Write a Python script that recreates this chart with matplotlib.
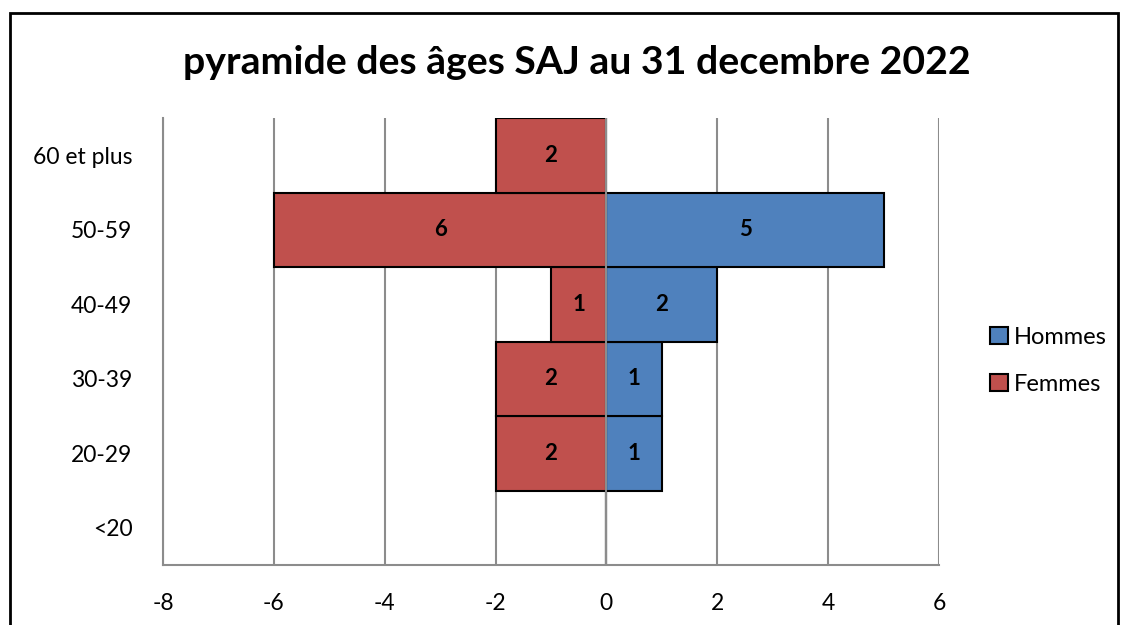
import matplotlib
matplotlib.use("Agg")
import matplotlib.pyplot as plt
import numpy as np
from matplotlib.patches import Rectangle

categories = ["<20", "20-29", "30-39", "40-49", "50-59", "60 et plus"]
hommes = [0, 1, 1, 2, 5, 0]
femmes = [0, 2, 2, 1, 6, 2]
xticks = [-8, -6, -4, -2, 0, 2, 4, 6]
title = "pyramide des âges SAJ au 31 decembre 2022"

plt.rcParams['font.family'] = ['Lato', 'DejaVu Sans']

fig = plt.figure(figsize=(11.21, 6.25), dpi=100)
ax = fig.add_axes([163/1121, 1-565/625, (939-163)/1121, (565-118)/625])

blue = "#4F81BD"
red = "#C0504D"
y = np.arange(len(categories))
ax.barh(y, hommes, height=1.0, color=blue, edgecolor="black", linewidth=1.5, label="Hommes", zorder=2)
ax.barh(y, [-v for v in femmes], height=1.0, color=red, edgecolor="black", linewidth=1.5, label="Femmes", zorder=2)

for i in range(len(categories)):
    if hommes[i]:
        ax.text(hommes[i]/2, i, str(hommes[i]), ha="center", va="center", fontsize=16, fontweight="bold", zorder=4)
    if femmes[i]:
        ax.text(-femmes[i]/2, i, str(femmes[i]), ha="center", va="center", fontsize=16, fontweight="bold", zorder=4)

ax.set_xlim(-8, 6)
ax.set_ylim(-0.5, len(categories)-0.5)
ax.set_xticks(xticks)
ax.set_xticklabels([str(t) for t in xticks], fontsize=16.5)
ax.set_yticks(y)
ax.set_yticklabels(categories, fontsize=16.5)
ax.tick_params(axis="both", length=0)
ax.tick_params(axis="x", pad=20)
ax.tick_params(axis="y", pad=22)
for t in xticks:
    ax.axvline(t, color="#8C8C8C", linewidth=1.5, zorder=1 if t != 0 else 3)
for s in ["top", "right"]:
    ax.spines[s].set_visible(False)
ax.spines["left"].set_color("#8C8C8C")
ax.spines["left"].set_linewidth(1.5)
ax.spines["bottom"].set_color("#8C8C8C")
ax.spines["bottom"].set_linewidth(1.5)

fig.text(577/1121, 1-62/625, title, ha="center", va="center", fontsize=28.3, fontweight="bold")

h, l = ax.get_legend_handles_labels()
leg = fig.legend(h, l, loc="center left", bbox_to_anchor=(969/1121, 1-361/625), frameon=False,
                 fontsize=17, handlelength=0.75, handleheight=0.75, handletextpad=0.25, labelspacing=1.1)

fig.add_artist(Rectangle((10/1121, -0.05), (1118-10)/1121, 1-13/625+0.05, transform=fig.transFigure,
                         fill=False, edgecolor="black", linewidth=2))

fig.savefig("out.png", dpi=100)
